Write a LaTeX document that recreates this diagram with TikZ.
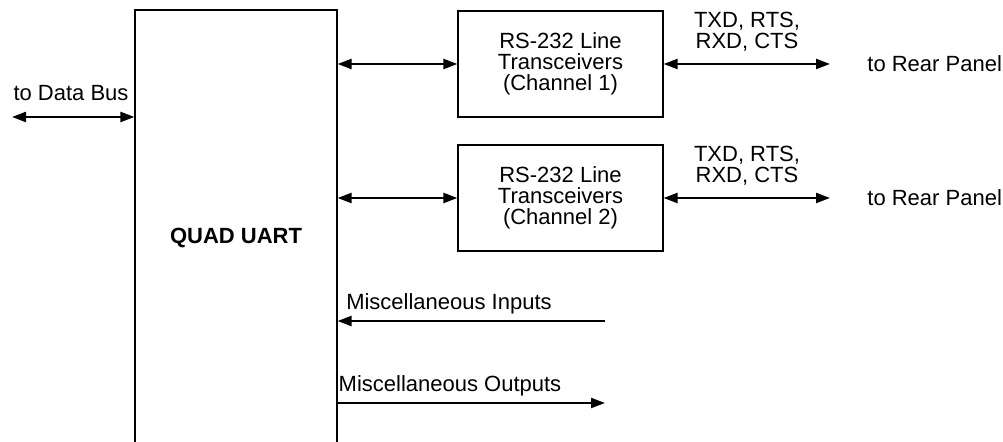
\documentclass[tikz,border=0pt]{standalone}
\usepackage{fontspec}
\setmainfont{Liberation Sans}
\usetikzlibrary{positioning,arrows.meta}

\begin{document}
\begin{tikzpicture}[x=0.5pt, y=-0.5pt,
  font=\fontsize{11}{10.5}\selectfont,
  blockN/.style={draw, line width=0.6pt, align=center, inner sep=0pt},
  xcvrN/.style={blockN, minimum width=102.5pt, minimum height=53pt},
  labelN/.style={align=center, inner sep=0pt},
  bus/.style={line width=1.1pt, {Triangle[length=7pt,width=5pt]}-{Triangle[length=7pt,width=5pt]}},
  sig/.style={line width=1.1pt, -{Triangle[length=7pt,width=5pt]}}
]
\clip (0,0) rectangle (1003,442);
% Blocks
\node[blockN, minimum width=101pt, minimum height=228pt, font=\fontsize{11}{10.5}\selectfont\bfseries] (uart) at (236,238) {QUAD UART};
\node[xcvrN] (ch1) at (560.5,64) {RS-232 Line\\Transceivers\\(Channel 1)};
\node[xcvrN] (ch2) at (560.5,198) {RS-232 Line\\Transceivers\\(Channel 2)};
% Data bus
\coordinate (dbus) at (12,117);
\draw[bus] (dbus) -- (dbus -| uart.west);
\node[labelN] (dbusL) at (71,93) {to Data Bus};
% Channel links
\draw[bus] (uart.east |- ch1) -- (ch1.west);
\draw[bus] (uart.east |- ch2) -- (ch2.west);
% Rear panel links
\coordinate (rp1) at (830,64);
\coordinate (rp2) at (830,198);
\draw[bus] (ch1.east) -- (rp1);
\draw[bus] (ch2.east) -- (rp2);
\node[labelN] (sig1) at (747,32) {TXD, RTS,\\RXD, CTS};
\node[labelN] (sig2) at (747,166) {TXD, RTS,\\RXD, CTS};
\node[labelN, anchor=west] (rear1) at (867,64) {to Rear Panel};
\node[labelN, anchor=west] (rear2) at (867,198) {to Rear Panel};
% Miscellaneous lines
\coordinate (misin) at (605,321);
\coordinate (misout) at (605,403);
\draw[sig] (misin) -- (misin -| uart.east);
\draw[sig] (uart.east |- misout) -- (misout);
\node[labelN] (misinL) at (449,304) {Miscellaneous Inputs};
\node[labelN] (misoutL) at (450,386) {Miscellaneous Outputs};
\end{tikzpicture}
\end{document}
